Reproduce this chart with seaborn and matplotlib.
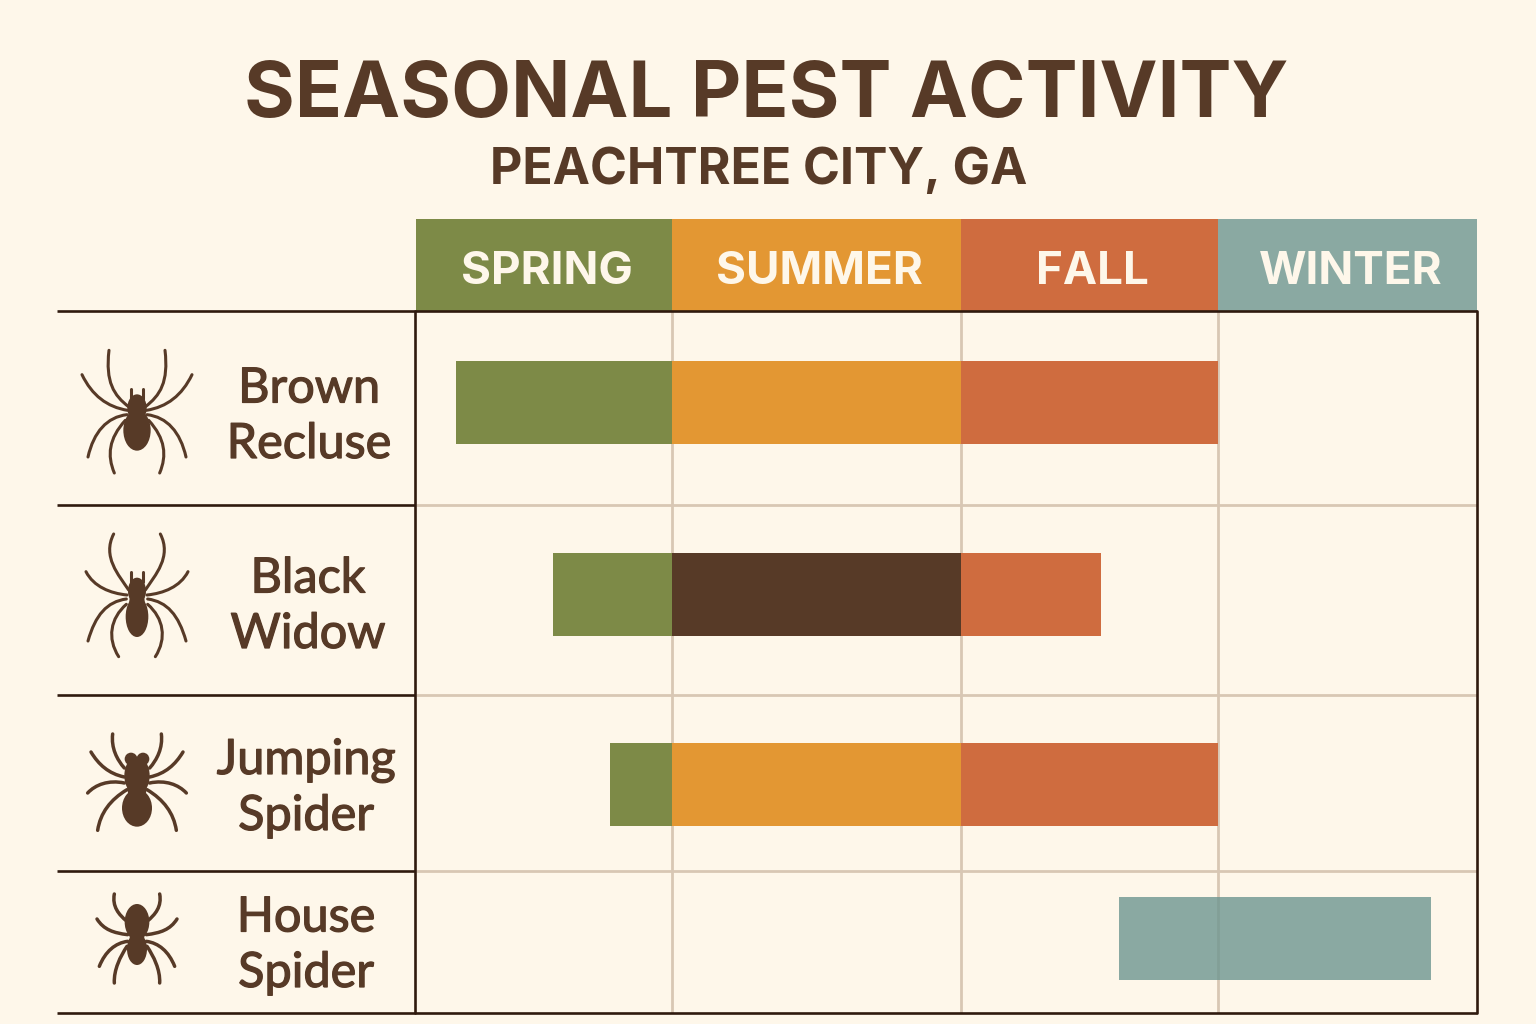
import numpy as np
import pandas as pd
import matplotlib.pyplot as plt
import matplotlib.patheffects as pe
import seaborn as sns
from matplotlib.path import Path
from matplotlib.patches import PathPatch, Ellipse

sns.set_theme(style="white")
plt.rcParams['font.family'] = ['Lato', 'DejaVu Sans']

BG = '#FEF7EA'
INK = '#573A27'
RULE = '#2F1A0E'
GRID = '#D8C7B4'
HEAD_FONT = ['Inter', 'DejaVu Sans']

# seasons, lengths in days
seasons = ['SPRING', 'SUMMER', 'FALL', 'WINTER']
season_days = [89, 100, 89, 90]
season_colors = ['#7D8A47', '#E39733', '#CF6C3F', '#8AA9A2']

species = ['Brown\nRecluse', 'Black\nWidow', 'Jumping\nSpider', 'House\nSpider']

# activity per species: edges in days since start of spring, one kind per segment
brown_recluse_edges = [14, 89, 189, 278]
brown_recluse_kinds = ['spring', 'summer', 'fall']
black_widow_edges = [47.5, 89, 189, 237.5]
black_widow_kinds = ['spring', 'peak', 'fall']
jumping_spider_edges = [67.5, 89, 189, 278]
jumping_spider_kinds = ['spring', 'summer', 'fall']
house_spider_edges = [244, 352]
house_spider_kinds = ['winter']

kind_colors = {'spring': '#7D8A47', 'summer': '#E39733', 'fall': '#CF6C3F',
               'peak': '#573A27', 'winter': '#6D9690'}

# table geometry: y axis is pixels below the top rule of the table
row_edges = [0, 194, 384, 560, 702]
bar_rows = [91.5, 283.5, 473.5, 627.5]
BAR_H = 83
HEAD_H = 92


def hbar(ax, row, start, end, color, height, alpha=1.0):
    df = pd.DataFrame({'span': [end - start], 'row': [row]})
    sns.barplot(data=df, x='span', y='row', orient='y', native_scale=True, left=start,
                width=height, color=color, saturation=1, errorbar=None, linewidth=0,
                alpha=alpha, ax=ax, zorder=2)


fig = plt.figure(figsize=(15.36, 10.24), dpi=100, facecolor=BG)
ax = fig.add_axes([415.6 / 1536, 1 - 1013 / 1024, 1061.6 / 1536, 794 / 1024])
ax.set_facecolor('none')

edges = np.concatenate([[0], np.cumsum(season_days)])

# header band
for i, season in enumerate(seasons):
    hbar(ax, -HEAD_H / 2, edges[i], edges[i + 1], season_colors[i], HEAD_H)

# activity bars
all_edges = [brown_recluse_edges, black_widow_edges, jumping_spider_edges, house_spider_edges]
all_kinds = [brown_recluse_kinds, black_widow_kinds, jumping_spider_kinds, house_spider_kinds]
for row, e, kinds in zip(bar_rows, all_edges, all_kinds):
    for j, kind in enumerate(kinds):
        hbar(ax, row, e[j], e[j + 1], kind_colors[kind], BAR_H, alpha=0.8 if kind == 'winter' else 1.0)

ax.vlines(edges[1:-1], 0, row_edges[-1], color=GRID, lw=2, zorder=1)
ax.hlines(row_edges[1:-1], 0, edges[-1], color=GRID, lw=2, zorder=1)

for i, season in enumerate(seasons):
    ax.text((edges[i] + edges[i + 1]) / 2 + 1, -HEAD_H / 2 + 19, season, ha='center', va='baseline',
            fontsize=33, fontweight='bold', family=HEAD_FONT, color=BG, zorder=3)

ax.set_xlim(0, edges[-1])
ax.set_ylim(row_edges[-1], -HEAD_H)
ax.set_xlabel('')
ax.set_ylabel('')
ax.set_xticks([])
ax.set_yticks([])
sns.despine(ax=ax, left=True, right=True, top=True, bottom=True)

# overlay in pixel space for rules, titles and the spider icons
ov = fig.add_axes([0, 0, 1, 1], zorder=5)
ov.set_xlim(0, 1536)
ov.set_ylim(1024, 0)
ov.axis('off')

for y in [311, 505, 695, 871, 1013]:
    x1 = 1477 if y in (311, 1013) else 415
    ov.plot([57, x1], [y, y], color=RULE, lw=1.9, solid_capstyle='butt')
ov.plot([415, 415], [311, 1013], color=RULE, lw=1.9)
ov.plot([1477, 1477], [311, 1013], color=RULE, lw=1.9)

ov.text(766, 117, 'SEASONAL PEST ACTIVITY', ha='center', va='baseline', fontsize=56,
        fontweight='bold', family=HEAD_FONT, color=INK)
ov.text(759, 184, 'PEACHTREE CITY, GA', ha='center', va='baseline', fontsize=36,
        fontweight='bold', family=HEAD_FONT, color=INK)

label_x = [309, 308, 306, 306]
label_base = [458, 648, 830, 987]
for name, x, y in zip(species, label_x, label_base):
    ov.text(x, y, name, ha='center', va='baseline', fontsize=35, color=INK, linespacing=1.32,
            path_effects=[pe.withStroke(linewidth=0.9, foreground=INK)])


def cubic(p0, c1, c2, p3):
    return Path([p0, c1, c2, p3], [Path.MOVETO, Path.CURVE4, Path.CURVE4, Path.CURVE4])


def draw_spider(cx, cy, legs, blobs, fangs=None, lw=2.2):
    # icon coordinates were read at 3x, so divide by three
    for leg in legs:
        for side in (1, -1):
            pts = [(cx + side * px / 3, cy + py / 3) for px, py in leg]
            ov.add_patch(PathPatch(cubic(*pts), fc='none', ec=INK, lw=lw, capstyle='round'))
    for bx, by, w, h in blobs:
        ov.add_patch(Ellipse((cx + bx / 3, cy + by / 3), w / 3, h / 3, fc=INK, ec='none'))
    if fangs:
        fx, y0, y1 = fangs
        for side in (1, -1):
            ov.plot([cx + side * fx / 3] * 2, [cy + y0 / 3, cy + y1 / 3], color=INK, lw=lw,
                    solid_capstyle='round')


draw_spider(137, 412,
            [[(24, -15), (70, -50), (95, -90), (84, -185)],
             [(28, -5), (90, -15), (135, -50), (165, -112)],
             [(30, 8), (90, 15), (130, 60), (147, 135)],
             [(35, 25), (85, 80), (90, 130), (68, 183)]],
            [(0, 55, 82, 122), (0, -12, 58, 82), (0, 15, 50, 60)], fangs=(17, -68, -40))
draw_spider(137, 595,
            [[(25, -15), (55, -60), (105, -115), (70, -183)],
             [(30, 0), (80, -5), (130, -25), (153, -70)],
             [(32, 12), (90, 20), (125, 60), (147, 138)],
             [(32, 28), (80, 70), (90, 130), (55, 185)]],
            [(0, 65, 68, 122), (0, -12, 54, 80), (0, 20, 46, 60)], fangs=(17, -68, -40))
draw_spider(137, 783,
            [[(38, -45), (60, -70), (78, -105), (73, -147)],
             [(38, -18), (85, -28), (115, -55), (138, -93)],
             [(38, 0), (85, -10), (125, 5), (148, 30)],
             [(30, 20), (80, 50), (110, 90), (118, 142)]],
            [(0, 75, 90, 112), (0, -22, 76, 115), (0, 20, 56, 70), (-18, -72, 38, 38), (18, -72, 38, 38)],
            lw=2.5)
draw_spider(137, 933,
            [[(30, -35), (55, -55), (75, -80), (68, -117)],
             [(28, 5), (70, 0), (100, -10), (120, -42)],
             [(28, 25), (65, 30), (95, 55), (113, 100)],
             [(30, 40), (50, 70), (70, 110), (68, 150)]],
            [(0, -33, 74, 108), (0, 48, 60, 96), (0, 8, 44, 60)], lw=2.5)

fig.savefig('out.png', dpi=100, facecolor=BG)
